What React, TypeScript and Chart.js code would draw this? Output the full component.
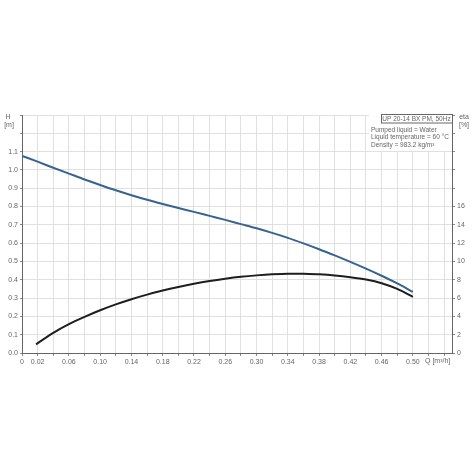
import React, { useEffect, useRef } from "react";
import { Chart, registerables } from "chart.js";

Chart.register(...registerables);

const flowH = [0, 0.02, 0.04, 0.06, 0.08, 0.1, 0.12, 0.14, 0.16, 0.18, 0.2, 0.22, 0.24, 0.26, 0.28, 0.3, 0.32, 0.34, 0.36, 0.38, 0.4, 0.42, 0.44, 0.46, 0.48, 0.5];
const headValues = [1.077, 1.045, 1.012, 0.98, 0.948, 0.918, 0.889, 0.862, 0.837, 0.814, 0.792, 0.771, 0.749, 0.727, 0.704, 0.681, 0.656, 0.629, 0.599, 0.567, 0.533, 0.498, 0.461, 0.422, 0.38, 0.334];

const flowEta = [0.018, 0.04, 0.06, 0.08, 0.1, 0.12, 0.14, 0.16, 0.18, 0.2, 0.22, 0.24, 0.26, 0.28, 0.3, 0.32, 0.34, 0.36, 0.38, 0.4, 0.42, 0.44, 0.46, 0.48, 0.5];
const etaValues = [0.95, 2.2, 3.15, 3.95, 4.67, 5.31, 5.88, 6.38, 6.82, 7.21, 7.56, 7.86, 8.11, 8.32, 8.48, 8.6, 8.66, 8.66, 8.59, 8.47, 8.28, 8.02, 7.62, 7.0, 6.13];

const titleText = "UP 20-14 BX PM, 50Hz";
const infoLines = ["Pumped liquid = Water", "Liquid temperature = 60 °C", "Density = 983.2 kg/m³"];

const FONT = "'Liberation Sans', Arial, sans-serif";
const TXT = "#666";

const annotations = {
  id: "annotations",
  afterDraw(chart: any) {
    const ctx = chart.ctx as CanvasRenderingContext2D;
    const ca = chart.chartArea;
    ctx.save();
    ctx.fillStyle = TXT;
    ctx.font = `7px ${FONT}`;
    ctx.textAlign = "center";
    ctx.textBaseline = "middle";
    ctx.fillText("H", 8, 117);
    ctx.fillText("[m]", 9, 125);
    ctx.fillText("eta", 464, 117);
    ctx.fillText("[%]", 464, 125);
    ctx.textAlign = "left";
    ctx.fillText("Q [m³/h]", 425, 361);

    // legend box
    const bx = 381, by = 114, bw = ca.right - 381, bh = 8.5;
    ctx.fillStyle = "#fff";
    ctx.fillRect(369, by, ca.right - 369, 37);
    ctx.strokeStyle = "#666";
    ctx.lineWidth = 1;
    ctx.strokeRect(bx + 0.5, by + 0.5, bw, bh);
    ctx.fillStyle = TXT;
    ctx.textAlign = "center";
    ctx.font = `6.5px ${FONT}`;
    ctx.fillText(titleText, bx + bw / 2, by + 4.8);
    ctx.textAlign = "left";
    infoLines.forEach((t, i) => ctx.fillText(t, 371, 130 + i * 7.4));
    ctx.restore();
  },
};

export default function App() {
  const ref = useRef<HTMLCanvasElement>(null);
  useEffect(() => {
    if (!ref.current) return;
    const chart = new Chart(ref.current, {
      type: "line",
      data: {
        datasets: [
          {
            label: "H",
            data: flowH.map((q, i) => ({ x: q, y: headValues[i] })),
            borderColor: "#36648f",
            borderWidth: 2,
            pointRadius: 0,
            cubicInterpolationMode: "monotone",
            yAxisID: "y",
          },
          {
            label: "eta",
            data: flowEta.map((q, i) => ({ x: q, y: etaValues[i] })),
            borderColor: "#1e1e1e",
            borderWidth: 2,
            pointRadius: 0,
            cubicInterpolationMode: "monotone",
            yAxisID: "y1",
          },
        ],
      },
      plugins: [annotations],
      options: {
        responsive: false,
        animation: false,
        events: [],
        layout: { padding: { top: 115, left: 0, right: 0, bottom: 0 } },
        plugins: { legend: { display: false }, tooltip: { enabled: false } },
        scales: {
          x: {
            type: "linear",
            min: 0,
            max: 0.55,
            border: { color: "#666", width: 1 },
            grid: { color: "#e0e0e0", tickLength: 3, tickColor: "#888" },
            ticks: {
              stepSize: 0.02,
              includeBounds: false,
              autoSkip: false,
              maxRotation: 0,
              padding: 2,
              color: TXT,
              font: { size: 7, family: FONT },
              callback: (v: any) => {
                const n = Math.round(Number(v) * 100);
                if (n === 0) return "0";
                if (n <= 50 && (n - 2) % 4 === 0) return (n / 100).toFixed(2);
                return "";
              },
            },
            afterFit: (s: any) => { s.height = 121; },
          },
          y: {
            type: "linear",
            position: "left",
            min: 0,
            max: 1.3,
            border: { color: "#666", width: 1 },
            grid: { color: "#e0e0e0", tickLength: 2, tickColor: "#888" },
            ticks: {
              stepSize: 0.1,
              padding: 2,
              color: TXT,
              font: { size: 7, family: FONT },
              callback: (v: any) => (Number(v) <= 1.1001 ? Number(v).toFixed(1) : ""),
            },
            afterFit: (s: any) => { s.width = 22; },
          },
          y1: {
            type: "linear",
            position: "right",
            min: 0,
            max: 26,
            border: { color: "#666", width: 1 },
            grid: { drawOnChartArea: false, tickLength: 3, tickColor: "#888" },
            ticks: {
              stepSize: 2,
              padding: 2,
              color: TXT,
              font: { size: 7, family: FONT },
              callback: (v: any) => (Number(v) <= 16 ? String(v) : ""),
            },
            afterFit: (s: any) => { s.width = 22; },
          },
        },
      },
    });
    return () => chart.destroy();
  }, []);
  return (
    <div style={{ position: "fixed", left: 0, top: 0, width: 474, height: 474, background: "#fff" }}>
      <canvas ref={ref} width={474} height={474} />
    </div>
  );
}
